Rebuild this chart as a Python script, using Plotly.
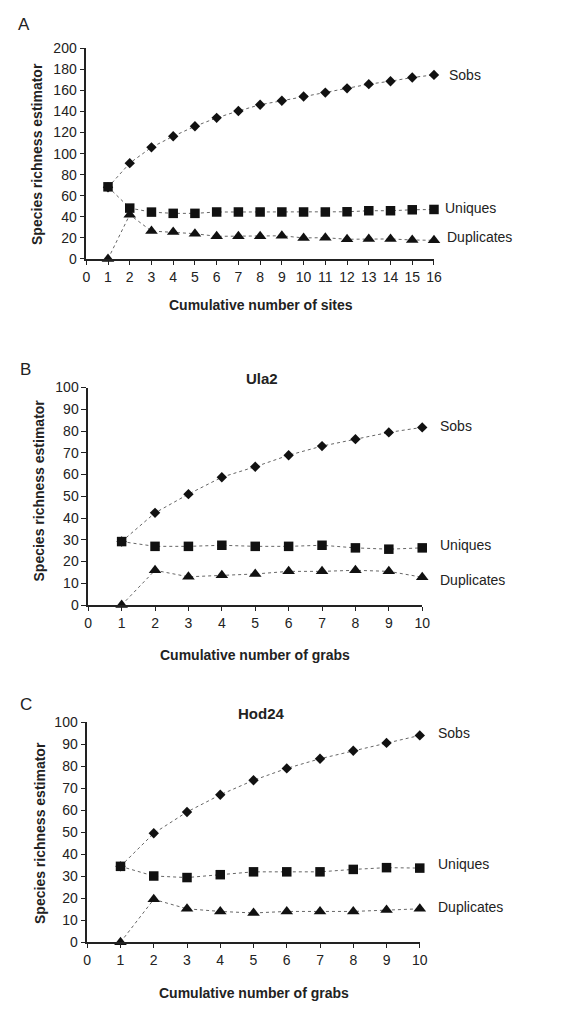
import plotly.graph_objects as go

W, H = 584, 1009

# ---- Data ----
sites = list(range(1, 17))
a_sobs = [68, 91, 106, 116.5, 126, 134, 140.5, 146.5, 150.2, 154.3, 158, 162, 166, 168.8, 172.3, 174.8]
a_uniq = [68.5, 48.3, 44.5, 43.3, 43.3, 44.6, 44.6, 44.6, 44.6, 44.6, 44.6, 44.8, 45.8, 45.8, 46.7, 47]
a_dupl = [0, 42, 26.5, 25.5, 24, 21.5, 21.5, 21.5, 22, 20, 20.2, 18.7, 19, 19, 18, 17.7]

grabs = list(range(1, 11))
b_sobs = [29.2, 42.4, 51, 58.8, 63.6, 68.9, 73.1, 76.3, 79.4, 81.7]
b_uniq = [29.2, 27, 27, 27.5, 27, 27, 27.5, 26.3, 25.7, 26.3]
b_dupl = [0, 16, 13, 13.7, 14.3, 15.5, 15.5, 16, 15.5, 12.8]

c_sobs = [34.5, 49.5, 59.2, 67, 73.6, 79, 83.4, 87, 90.6, 94]
c_uniq = [34.5, 30.1, 29.4, 30.7, 32, 32, 32, 33.1, 33.9, 33.7]
c_dupl = [0, 19.5, 15.2, 14, 13.3, 14, 14, 14, 14.6, 15.2]

series_names = ["Sobs", "Uniques", "Duplicates"]
panel_letters = ["A", "B", "C"]
panel_titles = ["", "Ula2", "Hod24"]
x_titles = ["Cumulative number of sites", "Cumulative number of grabs", "Cumulative number of grabs"]
y_title = "Species richness estimator"

FONT = "Liberation Sans, Arial, sans-serif"

def px(x):
    return x / W

def py(y):
    return 1 - y / H

geo = [
    dict(x0=84, x1=439, yt=41, yb=255, xmax=16, ymax=200, dy=20),
    dict(x0=86, x1=427, yt=385.7, yb=606.7, xmax=10, ymax=100, dy=10),
    dict(x0=85, x1=424.5, yt=725.7, yb=949.3, xmax=10, ymax=100, dy=10),
]

data = [
    (sites, [a_sobs, a_uniq, a_dupl]),
    (grabs, [b_sobs, b_uniq, b_dupl]),
    (grabs, [c_sobs, c_uniq, c_dupl]),
]

symbols = ["diamond", "square", "triangle-up"]
msizes = [8, 9.5, 11]

fig = go.Figure()
annotations = []

for i, g in enumerate(geo):
    xa = "x" if i == 0 else f"x{i+1}"
    ya = "y" if i == 0 else f"y{i+1}"
    xs, ys_list = data[i]
    for s, ys in enumerate(ys_list):
        fig.add_trace(go.Scatter(
            x=xs, y=ys, mode="lines+markers", xaxis=xa, yaxis=ya,
            line=dict(color="#666666", width=1, dash="dot"),
            marker=dict(symbol=symbols[s], size=msizes[s], color="#111111"),
            cliponaxis=False, showlegend=False, name=series_names[s]))
    ax = dict(
        domain=[px(g["x0"]), px(g["x1"])], range=[0, g["xmax"]],
        tickmode="linear", tick0=0, dtick=1,
        showline=True, linecolor="#222", linewidth=1.5,
        ticks="outside", ticklen=4, tickcolor="#222", tickwidth=1,
        showgrid=False, zeroline=False, anchor=ya,
        tickfont=dict(family=FONT, size=14, color="#222"),
        fixedrange=True,
    )
    ay = dict(
        domain=[py(g["yb"]), py(g["yt"])], range=[0, g["ymax"]],
        tickmode="linear", tick0=0, dtick=g["dy"],
        showline=True, linecolor="#222", linewidth=1.5,
        ticks="outside", ticklen=5, tickcolor="#222", tickwidth=1,
        showgrid=False, zeroline=False, anchor=xa,
        tickfont=dict(family=FONT, size=14, color="#222"),
        fixedrange=True,
    )
    fig.layout[("xaxis" if i == 0 else f"xaxis{i+1}")] = ax
    fig.layout[("yaxis" if i == 0 else f"yaxis{i+1}")] = ay

letter_pos = [(20, 17), (22, 367), (22, 708)]
title_pos = [(263, 0), (263, 376), (263, 717)]
xtitle_pos = [(262, 302), (256, 657), (255, 1001)]
ytitle_pos = [(33, 148), (36, 490), (36, 838)]
label_pos = [
    [(452, 68), (448, 203), (450, 233)],
    [(443, 425), (443, 546), (443, 581)],
    [(441, 737), (441, 870), (441, 913)],
]

for i in range(3):
    lx, ly = letter_pos[i]
    annotations.append(dict(x=px(lx), y=py(ly), xref="paper", yref="paper", text=panel_letters[i],
                            showarrow=False, font=dict(family=FONT, size=17, color="#222"),
                            xanchor="center", yanchor="middle"))
    if panel_titles[i]:
        tx, ty = title_pos[i]
        annotations.append(dict(x=px(tx), y=py(ty), xref="paper", yref="paper",
                                text="<b>%s</b>" % panel_titles[i], showarrow=False,
                                font=dict(family=FONT, size=15, color="#222"),
                                xanchor="center", yanchor="middle"))
    xx, xy = xtitle_pos[i]
    annotations.append(dict(x=px(xx), y=py(xy), xref="paper", yref="paper",
                            text="<b>%s</b>" % x_titles[i], showarrow=False,
                            font=dict(family=FONT, size=14, color="#222"),
                            xanchor="center", yanchor="middle"))
    yx, yy = ytitle_pos[i]
    annotations.append(dict(x=px(yx), y=py(yy), xref="paper", yref="paper",
                            text="<b>%s</b>" % y_title, showarrow=False, textangle=-90,
                            font=dict(family=FONT, size=14, color="#222"),
                            xanchor="center", yanchor="middle"))
    for s in range(3):
        sx, sy = label_pos[i][s]
        annotations.append(dict(x=px(sx), y=py(sy), xref="paper", yref="paper",
                                text=series_names[s], showarrow=False,
                                font=dict(family=FONT, size=14, color="#222"),
                                xanchor="left", yanchor="middle"))

fig.update_layout(
    width=W, height=H, margin=dict(l=0, r=0, t=0, b=0),
    paper_bgcolor="white", plot_bgcolor="white",
    annotations=annotations, showlegend=False,
)

fig.write_html("out.html", config={"displayModeBar": False})
